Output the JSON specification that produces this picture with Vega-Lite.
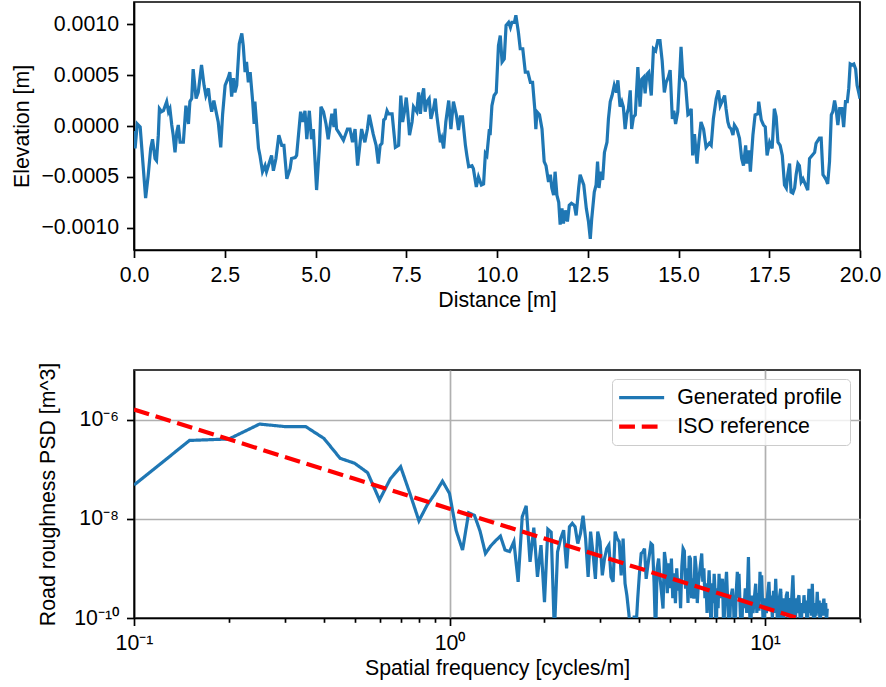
{
  "$schema": "https://vega.github.io/schema/vega-lite/v6.json",
  "padding": {"left": 11, "top": 1, "right": 5, "bottom": 5},
  "spacing": 120,
  "bounds": "flush",
  "config": {
    "font": "Liberation Sans",
    "view": {"stroke": "black", "strokeWidth": 1.7},
    "axis": {
      "labelFont": "Liberation Sans", "titleFont": "Liberation Sans",
      "labelFontSize": 21.3, "titleFontSize": 21.3, "titleFontWeight": "normal",
      "labelColor": "black", "titleColor": "black", "labelFlush": false, "labelOverlap": false,
      "domainColor": "black", "tickColor": "black", "domainWidth": 1.7, "tickWidth": 1.7,
      "tickSize": 7.5, "gridColor": "#b0b0b0", "gridWidth": 1.7, "gridOpacity": 1
    },
    "axisX": {"labelPadding": 7, "titlePadding": 4},
    "axisY": {"labelPadding": 8, "titlePadding": 10}
  },
  "datasets": {
    "profile": [
      {"distance":0.00,"elevation":-0.00005},{"distance":0.03,"elevation":-0.00022},{"distance":0.09,"elevation":0.00002},{"distance":0.17,"elevation":-0.00001},{"distance":0.32,"elevation":-0.00071},{"distance":0.39,"elevation":-0.00049},{"distance":0.46,"elevation":-0.00022},{"distance":0.51,"elevation":-0.00013},{"distance":0.58,"elevation":-0.00032},{"distance":0.62,"elevation":-0.00034},{"distance":0.67,"elevation":-0.00009},{"distance":0.70,"elevation":0.00017},{"distance":0.76,"elevation":0.00014},{"distance":0.81,"elevation":0.00015},{"distance":0.90,"elevation":0.00024},{"distance":0.95,"elevation":0.00014},{"distance":0.99,"elevation":0.00017},{"distance":1.04,"elevation":0.00001},{"distance":1.08,"elevation":-0.00009},{"distance":1.13,"elevation":-0.00026},{"distance":1.18,"elevation":-0.00006},{"distance":1.22,"elevation":0.00001},{"distance":1.27,"elevation":-0.00016},{"distance":1.36,"elevation":-0.00016},{"distance":1.43,"elevation":0.00020},{"distance":1.50,"elevation":0.00002},{"distance":1.54,"elevation":0.00024},{"distance":1.59,"elevation":0.00027},{"distance":1.63,"elevation":0.00056},{"distance":1.71,"elevation":0.00027},{"distance":1.77,"elevation":0.00033},{"distance":1.86,"elevation":0.00060},{"distance":1.93,"elevation":0.00040},{"distance":1.98,"elevation":0.00030},{"distance":2.05,"elevation":0.00037},{"distance":2.09,"elevation":0.00024},{"distance":2.14,"elevation":0.00014},{"distance":2.20,"elevation":0.00025},{"distance":2.28,"elevation":0.00011},{"distance":2.32,"elevation":0.00004},{"distance":2.39,"elevation":-0.00021},{"distance":2.44,"elevation":0.00011},{"distance":2.51,"elevation":0.00040},{"distance":2.60,"elevation":0.00048},{"distance":2.64,"elevation":0.00053},{"distance":2.69,"elevation":0.00029},{"distance":2.74,"elevation":0.00047},{"distance":2.78,"elevation":0.00033},{"distance":2.83,"elevation":0.00040},{"distance":2.90,"elevation":0.00081},{"distance":2.97,"elevation":0.00091},{"distance":3.01,"elevation":0.00079},{"distance":3.06,"elevation":0.00053},{"distance":3.10,"elevation":0.00063},{"distance":3.15,"elevation":0.00043},{"distance":3.20,"elevation":0.00053},{"distance":3.27,"elevation":0.00024},{"distance":3.31,"elevation":0.00002},{"distance":3.33,"elevation":0.00024},{"distance":3.43,"elevation":-0.00022},{"distance":3.47,"elevation":-0.00029},{"distance":3.54,"elevation":-0.00045},{"distance":3.61,"elevation":-0.00039},{"distance":3.65,"elevation":-0.00045},{"distance":3.79,"elevation":-0.00029},{"distance":3.84,"elevation":-0.00044},{"distance":3.91,"elevation":-0.00032},{"distance":3.99,"elevation":-0.00009},{"distance":4.07,"elevation":-0.00019},{"distance":4.13,"elevation":-0.00019},{"distance":4.21,"elevation":-0.00052},{"distance":4.30,"elevation":-0.00042},{"distance":4.34,"elevation":-0.00032},{"distance":4.44,"elevation":-0.00031},{"distance":4.48,"elevation":-0.00029},{"distance":4.59,"elevation":0.00014},{"distance":4.65,"elevation":0.00004},{"distance":4.71,"elevation":0.00015},{"distance":4.76,"elevation":-0.00013},{"distance":4.83,"elevation":0.00015},{"distance":4.89,"elevation":-0.00013},{"distance":4.94,"elevation":-0.00003},{"distance":5.03,"elevation":-0.00063},{"distance":5.11,"elevation":-0.00019},{"distance":5.15,"elevation":0.00019},{"distance":5.22,"elevation":0.00014},{"distance":5.29,"elevation":0.00002},{"distance":5.35,"elevation":-0.00013},{"distance":5.45,"elevation":0.00012},{"distance":5.51,"elevation":-0.00001},{"distance":5.54,"elevation":0.00017},{"distance":5.58,"elevation":-0.00003},{"distance":5.67,"elevation":-0.00008},{"distance":5.77,"elevation":-0.00014},{"distance":5.88,"elevation":-0.00003},{"distance":5.95,"elevation":-0.00003},{"distance":6.02,"elevation":-0.00016},{"distance":6.09,"elevation":-0.00003},{"distance":6.16,"elevation":-0.00039},{"distance":6.23,"elevation":-0.00016},{"distance":6.27,"elevation":-0.00003},{"distance":6.36,"elevation":-0.00016},{"distance":6.43,"elevation":-0.00003},{"distance":6.48,"elevation":0.00011},{"distance":6.59,"elevation":-0.00008},{"distance":6.67,"elevation":-0.00019},{"distance":6.73,"elevation":-0.00037},
      {"distance":6.78,"elevation":-0.00019},{"distance":6.83,"elevation":-0.00017},{"distance":6.88,"elevation":0.00006},{"distance":6.92,"elevation":0.00007},{"distance":6.97,"elevation":0.00015},{"distance":7.01,"elevation":0.00012},{"distance":7.11,"elevation":0.00012},{"distance":7.20,"elevation":-0.00021},{"distance":7.29,"elevation":-0.00019},{"distance":7.35,"elevation":0.00030},{"distance":7.40,"elevation":0.00004},{"distance":7.45,"elevation":0.00014},{"distance":7.50,"elevation":0.00028},{"distance":7.54,"elevation":0.00014},{"distance":7.59,"elevation":-0.00009},{"distance":7.66,"elevation":0.00004},{"distance":7.70,"elevation":0.00019},{"distance":7.79,"elevation":0.00014},{"distance":7.84,"elevation":0.00033},{"distance":7.89,"elevation":0.00012},{"distance":7.93,"elevation":0.00028},{"distance":7.98,"elevation":0.00037},{"distance":8.02,"elevation":0.00014},{"distance":8.07,"elevation":0.00024},{"distance":8.13,"elevation":0.00027},{"distance":8.18,"elevation":0.00007},{"distance":8.25,"elevation":0.00017},{"distance":8.30,"elevation":0.00027},{"distance":8.34,"elevation":0.00011},{"distance":8.39,"elevation":-0.00003},{"distance":8.44,"elevation":-0.00016},{"distance":8.48,"elevation":-0.00012},{"distance":8.53,"elevation":-0.00022},{"distance":8.59,"elevation":0.00004},{"distance":8.67,"elevation":0.00025},{"distance":8.73,"elevation":-0.00003},{"distance":8.80,"elevation":0.00024},{"distance":8.88,"elevation":0.00011},{"distance":8.94,"elevation":-0.00004},{"distance":8.99,"elevation":0.00009},{"distance":9.05,"elevation":0.00009},{"distance":9.13,"elevation":-0.00019},{"distance":9.17,"elevation":-0.00029},{"distance":9.22,"elevation":-0.00040},{"distance":9.31,"elevation":-0.00039},{"distance":9.35,"elevation":-0.00042},{"distance":9.43,"elevation":-0.00060},{"distance":9.49,"elevation":-0.00050},{"distance":9.57,"elevation":-0.00058},{"distance":9.63,"elevation":-0.00057},{"distance":9.68,"elevation":-0.00027},{"distance":9.72,"elevation":-0.00029},{"distance":9.79,"elevation":-0.00003},{"distance":9.81,"elevation":-0.00009},{"distance":9.86,"elevation":0.00020},{"distance":9.92,"elevation":0.00030},{"distance":9.98,"elevation":0.00033},{"distance":10.04,"elevation":0.00079},{"distance":10.09,"elevation":0.00089},{"distance":10.14,"elevation":0.00063},{"distance":10.20,"elevation":0.00066},{"distance":10.25,"elevation":0.00099},{"distance":10.32,"elevation":0.00102},{"distance":10.37,"elevation":0.00097},{"distance":10.41,"elevation":0.00102},{"distance":10.48,"elevation":0.00102},{"distance":10.52,"elevation":0.00109},{"distance":10.59,"elevation":0.00092},{"distance":10.64,"elevation":0.00076},{"distance":10.71,"elevation":0.00076},{"distance":10.78,"elevation":0.00053},{"distance":10.85,"elevation":0.00053},{"distance":10.92,"elevation":0.00043},{"distance":10.98,"elevation":0.00043},{"distance":11.04,"elevation":0.00017},{"distance":11.07,"elevation":-0.00003},{"distance":11.10,"elevation":0.00014},{"distance":11.17,"elevation":0.00011},{"distance":11.24,"elevation":-0.00003},{"distance":11.30,"elevation":-0.00035},{"distance":11.35,"elevation":-0.00039},{"distance":11.42,"elevation":-0.00055},{"distance":11.47,"elevation":-0.00048},{"distance":11.51,"elevation":-0.00061},{"distance":11.56,"elevation":-0.00068},{"distance":11.60,"elevation":-0.00045},{"distance":11.65,"elevation":-0.00068},{"distance":11.70,"elevation":-0.00075},{"distance":11.74,"elevation":-0.00097},{"distance":11.79,"elevation":-0.00081},{"distance":11.83,"elevation":-0.00096},{"distance":11.88,"elevation":-0.00083},{"distance":11.94,"elevation":-0.00094},{"distance":11.99,"elevation":-0.00078},{"distance":12.05,"elevation":-0.00076},{"distance":12.13,"elevation":-0.00078},{"distance":12.18,"elevation":-0.00088},{"distance":12.25,"elevation":-0.00061},{"distance":12.29,"elevation":-0.00048},{"distance":12.39,"elevation":-0.00058},{"distance":12.46,"elevation":-0.00081},{"distance":12.52,"elevation":-0.00094},{"distance":12.57,"elevation":-0.00111},{"distance":12.61,"elevation":-0.00091},{"distance":12.68,"elevation":-0.00065},{"distance":12.73,"elevation":-0.00058},{"distance":12.77,"elevation":-0.00035},{"distance":12.81,"elevation":-0.00061},{"distance":12.86,"elevation":-0.00045},{"distance":12.91,"elevation":-0.00053},{"distance":12.96,"elevation":-0.00026},{"distance":13.03,"elevation":-0.00016},{"distance":13.07,"elevation":0.00007},{"distance":13.12,"elevation":0.00024},{"distance":13.17,"elevation":0.00030},{"distance":13.23,"elevation":0.00040},{"distance":13.29,"elevation":0.00033},{"distance":13.33,"elevation":0.00045},
      {"distance":13.39,"elevation":0.00019},{"distance":13.44,"elevation":0.00024},{"distance":13.48,"elevation":0.00019},{"distance":13.53,"elevation":-0.00003},{"distance":13.58,"elevation":0.00012},{"distance":13.62,"elevation":0.00017},{"distance":13.67,"elevation":0.00035},{"distance":13.71,"elevation":-0.00003},{"distance":13.76,"elevation":0.00009},{"distance":13.81,"elevation":0.00011},{"distance":13.88,"elevation":0.00058},{"distance":13.94,"elevation":0.00019},{"distance":13.99,"elevation":0.00046},{"distance":14.04,"elevation":0.00048},{"distance":14.08,"elevation":0.00032},{"distance":14.13,"elevation":0.00051},{"distance":14.18,"elevation":0.00053},{"distance":14.25,"elevation":0.00030},{"distance":14.31,"elevation":0.00076},{"distance":14.37,"elevation":0.00074},{"distance":14.43,"elevation":0.00084},{"distance":14.49,"elevation":0.00084},{"distance":14.55,"elevation":0.00064},{"distance":14.61,"elevation":0.00033},{"distance":14.66,"elevation":0.00043},{"distance":14.72,"elevation":0.00048},{"distance":14.77,"elevation":0.00055},{"distance":14.83,"elevation":0.00007},{"distance":14.87,"elevation":0.00015},{"distance":14.92,"elevation":0.00002},{"distance":14.98,"elevation":0.00014},{"distance":15.03,"elevation":0.00048},{"distance":15.07,"elevation":0.00078},{"distance":15.12,"elevation":0.00048},{"distance":15.19,"elevation":0.00043},{"distance":15.26,"elevation":0.00011},{"distance":15.30,"elevation":0.00012},{"distance":15.35,"elevation":0.00017},{"distance":15.39,"elevation":-0.00029},{"distance":15.44,"elevation":-0.00008},{"distance":15.51,"elevation":-0.00037},{"distance":15.56,"elevation":-0.00016},{"distance":15.62,"elevation":0.00004},{"distance":15.69,"elevation":-0.00003},{"distance":15.76,"elevation":-0.00021},{"distance":15.85,"elevation":-0.00017},{"distance":15.90,"elevation":-0.00019},{"distance":15.96,"elevation":0.00007},{"distance":16.04,"elevation":0.00027},{"distance":16.10,"elevation":0.00035},{"distance":16.15,"elevation":0.00020},{"distance":16.20,"elevation":0.00024},{"distance":16.27,"elevation":0.00030},{"distance":16.31,"elevation":0.00017},{"distance":16.36,"elevation":0.00004},{"distance":16.40,"elevation":-0.00001},{"distance":16.45,"elevation":-0.00003},{"distance":16.50,"elevation":-0.00009},{"distance":16.54,"elevation":0.00001},{"distance":16.61,"elevation":-0.00003},{"distance":16.68,"elevation":-0.00012},{"distance":16.74,"elevation":-0.00032},{"distance":16.79,"elevation":-0.00039},{"distance":16.85,"elevation":-0.00019},{"distance":16.88,"elevation":-0.00037},{"distance":16.94,"elevation":-0.00024},{"distance":16.98,"elevation":-0.00045},{"distance":17.05,"elevation":-0.00009},{"distance":17.11,"elevation":0.00011},{"distance":17.19,"elevation":0.00012},{"distance":17.21,"elevation":0.00024},{"distance":17.28,"elevation":0.00006},{"distance":17.34,"elevation":0.00001},{"distance":17.39,"elevation":-0.00001},{"distance":17.44,"elevation":-0.00029},{"distance":17.51,"elevation":-0.00016},{"distance":17.58,"elevation":-0.00022},{"distance":17.64,"elevation":0.00017},{"distance":17.69,"elevation":0.00009},{"distance":17.74,"elevation":-0.00016},{"distance":17.80,"elevation":-0.00019},{"distance":17.86,"elevation":-0.00029},{"distance":17.92,"elevation":-0.00058},{"distance":17.97,"elevation":-0.00061},{"distance":18.01,"elevation":-0.00048},{"distance":18.06,"elevation":-0.00037},{"distance":18.10,"elevation":-0.00065},{"distance":18.15,"elevation":-0.00066},{"distance":18.20,"elevation":-0.00061},{"distance":18.24,"elevation":-0.00048},{"distance":18.29,"elevation":-0.00037},{"distance":18.33,"elevation":-0.00039},{"distance":18.38,"elevation":-0.00055},{"distance":18.43,"elevation":-0.00052},{"distance":18.50,"elevation":-0.00058},{"distance":18.56,"elevation":-0.00063},{"distance":18.61,"elevation":-0.00032},{"distance":18.68,"elevation":-0.00029},{"distance":18.75,"elevation":-0.00026},{"distance":18.79,"elevation":-0.00017},{"distance":18.88,"elevation":-0.00012},{"distance":18.93,"elevation":-0.00012},{"distance":18.98,"elevation":-0.00048},{"distance":19.02,"elevation":-0.00050},{"distance":19.07,"elevation":-0.00053},{"distance":19.11,"elevation":-0.00057},{"distance":19.16,"elevation":-0.00035},{"distance":19.21,"elevation":0.00011},{"distance":19.25,"elevation":0.00014},{"distance":19.30,"elevation":0.00025},{"distance":19.34,"elevation":0.00017},{"distance":19.39,"elevation":0.00001},{"distance":19.44,"elevation":0.00017},{"distance":19.50,"elevation":0.00017},{"distance":19.55,"elevation":-0.00001},{"distance":19.60,"elevation":0.00024},{"distance":19.65,"elevation":0.00024},{"distance":19.69,"elevation":0.00037},{"distance":19.73,"elevation":0.00061},{"distance":19.78,"elevation":0.00060},{"distance":19.83,"elevation":0.00061},{"distance":19.88,"elevation":0.00056},{"distance":19.92,"elevation":0.00040},{"distance":19.97,"elevation":0.00032},{"distance":20.00,"elevation":0.00027}
    ],
    "psd": [
      {"f":0.10,"psd":4.79e-8,"series":"Generated profile"},{"f":0.15,"psd":3.80e-7,"series":"Generated profile"},{"f":0.20,"psd":4.07e-7,"series":"Generated profile"},{"f":0.25,"psd":8.13e-7,"series":"Generated profile"},{"f":0.30,"psd":7.24e-7,"series":"Generated profile"},{"f":0.35,"psd":7.24e-7,"series":"Generated profile"},{"f":0.40,"psd":4.17e-7,"series":"Generated profile"},{"f":0.45,"psd":1.66e-7,"series":"Generated profile"},{"f":0.50,"psd":1.32e-7,"series":"Generated profile"},{"f":0.55,"psd":8.51e-8,"series":"Generated profile"},{"f":0.60,"psd":2.40e-8,"series":"Generated profile"},{"f":0.65,"psd":6.46e-8,"series":"Generated profile"},{"f":0.70,"psd":1.12e-7,"series":"Generated profile"},{"f":0.75,"psd":3.16e-8,"series":"Generated profile"},{"f":0.80,"psd":9.12e-9,"series":"Generated profile"},{"f":0.85,"psd":1.91e-8,"series":"Generated profile"},{"f":0.90,"psd":3.24e-8,"series":"Generated profile"},{"f":0.95,"psd":5.75e-8,"series":"Generated profile"},{"f":1.00,"psd":3.24e-8,"series":"Generated profile"},{"f":1.05,"psd":5.75e-9,"series":"Generated profile"},{"f":1.10,"psd":2.34e-9,"series":"Generated profile"},{"f":1.15,"psd":1.32e-8,"series":"Generated profile"},{"f":1.20,"psd":1.17e-8,"series":"Generated profile"},{"f":1.25,"psd":5.62e-9,"series":"Generated profile"},{"f":1.30,"psd":2.00e-9,"series":"Generated profile"},{"f":1.35,"psd":2.82e-9,"series":"Generated profile"},{"f":1.40,"psd":3.63e-9,"series":"Generated profile"},{"f":1.45,"psd":4.47e-9,"series":"Generated profile"},{"f":1.50,"psd":2.34e-9,"series":"Generated profile"},{"f":1.55,"psd":2.19e-9,"series":"Generated profile"},{"f":1.60,"psd":3.47e-9,"series":"Generated profile"},{"f":1.65,"psd":5.37e-10,"series":"Generated profile"},{"f":1.70,"psd":1.10e-8,"series":"Generated profile"},{"f":1.75,"psd":1.82e-8,"series":"Generated profile"},{"f":1.80,"psd":1.35e-9,"series":"Generated profile"},{"f":1.85,"psd":6.61e-9,"series":"Generated profile"},{"f":1.90,"psd":6.76e-10,"series":"Generated profile"},{"f":1.95,"psd":2.95e-9,"series":"Generated profile"},{"f":2.00,"psd":2.09e-10,"series":"Generated profile"},{"f":2.05,"psd":6.17e-9,"series":"Generated profile"},{"f":2.10,"psd":5.37e-9,"series":"Generated profile"},{"f":2.15,"psd":5.01e-11,"series":"Generated profile"},{"f":2.20,"psd":2.14e-9,"series":"Generated profile"},{"f":2.25,"psd":3.98e-9,"series":"Generated profile"},{"f":2.30,"psd":5.89e-9,"series":"Generated profile"},{"f":2.35,"psd":1.00e-9,"series":"Generated profile"},{"f":2.40,"psd":6.92e-9,"series":"Generated profile"},{"f":2.45,"psd":8.13e-9,"series":"Generated profile"},{"f":2.50,"psd":6.92e-9,"series":"Generated profile"},{"f":2.55,"psd":3.16e-9,"series":"Generated profile"},{"f":2.60,"psd":5.01e-9,"series":"Generated profile"},{"f":2.65,"psd":1.15e-8,"series":"Generated profile"},{"f":2.70,"psd":3.98e-9,"series":"Generated profile"},{"f":2.75,"psd":6.76e-10,"series":"Generated profile"},{"f":2.80,"psd":5.50e-9,"series":"Generated profile"},{"f":2.85,"psd":2.00e-9,"series":"Generated profile"},{"f":2.90,"psd":6.17e-10,"series":"Generated profile"},{"f":2.95,"psd":5.50e-9,"series":"Generated profile"},{"f":3.00,"psd":3.47e-9,"series":"Generated profile"},{"f":3.05,"psd":7.24e-10,"series":"Generated profile"},{"f":3.10,"psd":1.58e-9,"series":"Generated profile"},{"f":3.15,"psd":2.51e-9,"series":"Generated profile"},{"f":3.20,"psd":2.95e-9,"series":"Generated profile"},{"f":3.25,"psd":6.76e-10,"series":"Generated profile"},{"f":3.30,"psd":5.37e-10,"series":"Generated profile"},{"f":3.35,"psd":5.50e-9,"series":"Generated profile"},{"f":3.40,"psd":3.98e-9,"series":"Generated profile"},{"f":3.45,"psd":3.47e-9,"series":"Generated profile"},{"f":3.50,"psd":7.24e-10,"series":"Generated profile"},{"f":3.55,"psd":3.98e-9,"series":"Generated profile"},{"f":3.60,"psd":5.01e-10,"series":"Generated profile"},{"f":3.65,"psd":2.82e-10,"series":"Generated profile"},{"f":3.70,"psd":1.26e-10,"series":"Generated profile"},{"f":3.75,"psd":5.01e-11,"series":"Generated profile"},{"f":3.80,"psd":3.16e-11,"series":"Generated profile"},{"f":3.85,"psd":1.12e-10,"series":"Generated profile"},{"f":3.90,"psd":6.31e-11,"series":"Generated profile"},{"f":3.95,"psd":2.51e-10,"series":"Generated profile"},{"f":4.00,"psd":7.94e-10,"series":"Generated profile"},{"f":4.05,"psd":2.00e-9,"series":"Generated profile"},{"f":4.10,"psd":2.14e-9,"series":"Generated profile"},{"f":4.15,"psd":2.51e-9,"series":"Generated profile"},{"f":4.20,"psd":6.17e-10,"series":"Generated profile"},{"f":4.25,"psd":1.12e-9,"series":"Generated profile"},{"f":4.30,"psd":1.86e-9,"series":"Generated profile"},{"f":4.35,"psd":3.16e-9,"series":"Generated profile"},{"f":4.40,"psd":2.95e-9,"series":"Generated profile"},{"f":4.45,"psd":5.01e-10,"series":"Generated profile"},{"f":4.50,"psd":3.98e-11,"series":"Generated profile"},{"f":4.55,"psd":1.00e-9,"series":"Generated profile"},{"f":4.60,"psd":1.58e-9,"series":"Generated profile"},{"f":4.65,"psd":6.17e-10,"series":"Generated profile"},{"f":4.70,"psd":3.16e-10,"series":"Generated profile"},{"f":4.75,"psd":1.55e-10,"series":"Generated profile"},{"f":4.80,"psd":2.14e-9,"series":"Generated profile"},{"f":4.85,"psd":1.26e-9,"series":"Generated profile"},{"f":4.90,"psd":3.16e-10,"series":"Generated profile"},{"f":4.95,"psd":1.26e-9,"series":"Generated profile"},{"f":5.00,"psd":3.98e-10,"series":"Generated profile"},{"f":5.05,"psd":1.58e-9,"series":"Generated profile"},{"f":5.10,"psd":2.51e-10,"series":"Generated profile"},{"f":5.15,"psd":7.94e-10,"series":"Generated profile"},{"f":5.20,"psd":2.00e-10,"series":"Generated profile"},{"f":5.25,"psd":1.00e-9,"series":"Generated profile"},{"f":5.30,"psd":3.55e-10,"series":"Generated profile"},{"f":5.35,"psd":6.31e-10,"series":"Generated profile"},{"f":5.40,"psd":1.58e-10,"series":"Generated profile"},{"f":5.45,"psd":1.12e-9,"series":"Generated profile"},{"f":5.50,"psd":2.51e-9,"series":"Generated profile"},{"f":5.55,"psd":2.24e-9,"series":"Generated profile"},{"f":5.60,"psd":3.89e-10,"series":"Generated profile"},{"f":5.65,"psd":1.00e-9,"series":"Generated profile"},{"f":5.70,"psd":2.00e-10,"series":"Generated profile"},{"f":5.75,"psd":1.78e-9,"series":"Generated profile"},{"f":5.80,"psd":1.58e-9,"series":"Generated profile"},{"f":5.85,"psd":2.51e-10,"series":"Generated profile"},{"f":5.90,"psd":6.31e-10,"series":"Generated profile"},{"f":5.95,"psd":2.45e-10,"series":"Generated profile"},{"f":6.00,"psd":1.78e-9,"series":"Generated profile"},{"f":6.05,"psd":1.00e-9,"series":"Generated profile"},{"f":6.10,"psd":2.00e-10,"series":"Generated profile"},{"f":6.15,"psd":5.01e-10,"series":"Generated profile"},{"f":6.20,"psd":7.94e-10,"series":"Generated profile"},{"f":6.30,"psd":2.00e-9,"series":"Generated profile"},{"f":6.35,"psd":5.37e-10,"series":"Generated profile"},{"f":6.40,"psd":1.00e-9,"series":"Generated profile"},{"f":6.45,"psd":2.51e-10,"series":"Generated profile"},{"f":6.50,"psd":5.01e-10,"series":"Generated profile"},
      {"f":6.55,"psd":1.26e-10,"series":"Generated profile"},{"f":6.65,"psd":9.12e-10,"series":"Generated profile"},{"f":6.70,"psd":2.51e-10,"series":"Generated profile"},{"f":6.75,"psd":3.98e-11,"series":"Generated profile"},{"f":6.80,"psd":5.01e-10,"series":"Generated profile"},{"f":6.85,"psd":2.00e-10,"series":"Generated profile"},{"f":6.90,"psd":7.76e-10,"series":"Generated profile"},{"f":6.95,"psd":3.16e-10,"series":"Generated profile"},{"f":7.00,"psd":3.16e-11,"series":"Generated profile"},{"f":7.05,"psd":3.98e-10,"series":"Generated profile"},{"f":7.10,"psd":1.58e-10,"series":"Generated profile"},{"f":7.15,"psd":7.76e-10,"series":"Generated profile"},{"f":7.20,"psd":2.51e-10,"series":"Generated profile"},{"f":7.25,"psd":3.98e-10,"series":"Generated profile"},{"f":7.33,"psd":6.17e-10,"series":"Generated profile"},{"f":7.40,"psd":5.01e-11,"series":"Generated profile"},{"f":7.47,"psd":3.16e-10,"series":"Generated profile"},{"f":7.55,"psd":8.51e-10,"series":"Generated profile"},{"f":7.62,"psd":2.00e-10,"series":"Generated profile"},{"f":7.70,"psd":3.98e-11,"series":"Generated profile"},{"f":7.78,"psd":2.51e-10,"series":"Generated profile"},{"f":7.88,"psd":3.89e-10,"series":"Generated profile"},{"f":7.95,"psd":1.78e-10,"series":"Generated profile"},{"f":8.02,"psd":2.51e-11,"series":"Generated profile"},{"f":8.10,"psd":3.16e-10,"series":"Generated profile"},{"f":8.17,"psd":8.51e-10,"series":"Generated profile"},{"f":8.22,"psd":2.51e-10,"series":"Generated profile"},{"f":8.27,"psd":7.76e-10,"series":"Generated profile"},{"f":8.35,"psd":1.26e-10,"series":"Generated profile"},{"f":8.42,"psd":3.16e-11,"series":"Generated profile"},{"f":8.50,"psd":2.51e-10,"series":"Generated profile"},{"f":8.58,"psd":1.58e-10,"series":"Generated profile"},{"f":8.66,"psd":3.98e-10,"series":"Generated profile"},{"f":8.75,"psd":1.26e-10,"series":"Generated profile"},{"f":8.86,"psd":1.70e-9,"series":"Generated profile"},{"f":8.92,"psd":2.00e-10,"series":"Generated profile"},{"f":9.00,"psd":3.98e-11,"series":"Generated profile"},{"f":9.08,"psd":2.82e-10,"series":"Generated profile"},{"f":9.16,"psd":1.26e-10,"series":"Generated profile"},{"f":9.25,"psd":2.51e-10,"series":"Generated profile"},{"f":9.34,"psd":4.90e-10,"series":"Generated profile"},{"f":9.42,"psd":1.26e-10,"series":"Generated profile"},{"f":9.50,"psd":3.16e-10,"series":"Generated profile"},{"f":9.57,"psd":1.41e-10,"series":"Generated profile"},{"f":9.64,"psd":8.51e-10,"series":"Generated profile"},{"f":9.70,"psd":2.51e-10,"series":"Generated profile"},{"f":9.76,"psd":7.24e-10,"series":"Generated profile"},{"f":9.84,"psd":1.26e-10,"series":"Generated profile"},{"f":9.92,"psd":2.51e-11,"series":"Generated profile"},{"f":10.00,"psd":2.51e-10,"series":"Generated profile"},{"f":10.10,"psd":1.26e-10,"series":"Generated profile"},{"f":10.20,"psd":3.16e-10,"series":"Generated profile"},{"f":10.29,"psd":5.37e-10,"series":"Generated profile"},{"f":10.38,"psd":1.41e-10,"series":"Generated profile"},{"f":10.46,"psd":2.82e-10,"series":"Generated profile"},{"f":10.55,"psd":1.00e-10,"series":"Generated profile"},{"f":10.64,"psd":3.55e-10,"series":"Generated profile"},{"f":10.72,"psd":1.26e-10,"series":"Generated profile"},{"f":10.81,"psd":6.17e-10,"series":"Generated profile"},{"f":10.90,"psd":1.58e-10,"series":"Generated profile"},{"f":11.00,"psd":3.98e-11,"series":"Generated profile"},{"f":11.10,"psd":2.51e-10,"series":"Generated profile"},{"f":11.21,"psd":3.89e-10,"series":"Generated profile"},{"f":11.30,"psd":1.26e-10,"series":"Generated profile"},{"f":11.40,"psd":3.16e-11,"series":"Generated profile"},{"f":11.50,"psd":2.51e-10,"series":"Generated profile"},{"f":11.60,"psd":1.26e-10,"series":"Generated profile"},{"f":11.68,"psd":2.82e-10,"series":"Generated profile"},{"f":11.77,"psd":3.39e-10,"series":"Generated profile"},{"f":11.86,"psd":1.00e-10,"series":"Generated profile"},{"f":11.95,"psd":2.51e-10,"series":"Generated profile"},{"f":12.05,"psd":5.01e-11,"series":"Generated profile"},{"f":12.15,"psd":2.51e-10,"series":"Generated profile"},{"f":12.26,"psd":7.24e-10,"series":"Generated profile"},{"f":12.35,"psd":1.58e-10,"series":"Generated profile"},{"f":12.45,"psd":3.98e-11,"series":"Generated profile"},{"f":12.55,"psd":2.51e-10,"series":"Generated profile"},{"f":12.65,"psd":1.26e-10,"series":"Generated profile"},{"f":12.72,"psd":2.40e-10,"series":"Generated profile"},{"f":12.81,"psd":2.88e-10,"series":"Generated profile"},{"f":12.90,"psd":1.12e-10,"series":"Generated profile"},{"f":13.00,"psd":3.98e-11,"series":"Generated profile"},{"f":13.10,"psd":2.00e-10,"series":"Generated profile"},{"f":13.20,"psd":1.26e-10,"series":"Generated profile"},{"f":13.29,"psd":2.88e-10,"series":"Generated profile"},{"f":13.40,"psd":1.26e-10,"series":"Generated profile"},{"f":13.50,"psd":2.24e-10,"series":"Generated profile"},{"f":13.60,"psd":5.01e-11,"series":"Generated profile"},{"f":13.70,"psd":1.78e-10,"series":"Generated profile"},{"f":13.78,"psd":3.89e-10,"series":"Generated profile"},{"f":13.88,"psd":1.26e-10,"series":"Generated profile"},{"f":13.96,"psd":2.51e-10,"series":"Generated profile"},{"f":14.04,"psd":1.12e-10,"series":"Generated profile"},{"f":14.12,"psd":4.90e-10,"series":"Generated profile"},{"f":14.22,"psd":1.26e-10,"series":"Generated profile"},{"f":14.32,"psd":3.98e-11,"series":"Generated profile"},{"f":14.42,"psd":2.00e-10,"series":"Generated profile"},{"f":14.52,"psd":1.12e-10,"series":"Generated profile"},{"f":14.64,"psd":3.39e-10,"series":"Generated profile"},{"f":14.74,"psd":1.26e-10,"series":"Generated profile"},{"f":14.85,"psd":2.24e-10,"series":"Generated profile"},{"f":14.95,"psd":6.31e-11,"series":"Generated profile"},{"f":15.05,"psd":2.00e-10,"series":"Generated profile"},{"f":15.15,"psd":1.12e-10,"series":"Generated profile"},{"f":15.25,"psd":1.78e-10,"series":"Generated profile"},{"f":15.37,"psd":2.45e-10,"series":"Generated profile"},{"f":15.47,"psd":1.12e-10,"series":"Generated profile"},{"f":15.57,"psd":2.00e-10,"series":"Generated profile"},{"f":15.66,"psd":7.94e-11,"series":"Generated profile"},{"f":15.75,"psd":1.55e-10,"series":"Generated profile"},
      {"f":0.1,"psd":1.6e-6,"series":"ISO reference"},{"f":0.2,"psd":4.0e-7,"series":"ISO reference"},{"f":0.5,"psd":6.4e-8,"series":"ISO reference"},{"f":1.0,"psd":1.6e-8,"series":"ISO reference"},{"f":2.0,"psd":4.0e-9,"series":"ISO reference"},{"f":5.0,"psd":6.4e-10,"series":"ISO reference"},{"f":10.0,"psd":1.6e-10,"series":"ISO reference"},{"f":15.75,"psd":6.45e-11,"series":"ISO reference"}
    ]
  },
  "vconcat": [
    {
      "width": 726,
      "height": 248,
      "data": {"name": "profile"},
      "mark": {"type": "line", "color": "#1f77b4", "strokeWidth": 3.2, "clip": true},
      "encoding": {
        "x": {"field": "distance", "type": "quantitative",
              "scale": {"domain": [0, 20], "nice": false, "zero": false},
              "axis": {"title": "Distance [m]", "values": [0, 2.5, 5, 7.5, 10, 12.5, 15, 17.5, 20], "format": ".1f", "grid": false}},
        "y": {"field": "elevation", "type": "quantitative",
              "scale": {"domain": [-0.00122, 0.00122], "nice": false, "zero": false},
              "axis": {"title": "Elevation [m]", "titlePadding": 8, "values": [-0.001, -0.0005, 0, 0.0005, 0.001], "format": ".4f", "grid": false}}
      }
    },
    {
      "width": 726,
      "height": 248,
      "data": {"name": "psd"},
      "resolve": {"axis": {"x": "independent"}},
      "layer": [
        {
          "mark": {"type": "line", "clip": true},
          "encoding": {
            "x": {"field": "f", "type": "quantitative",
                  "scale": {"type": "log", "domain": [0.1, 20], "nice": false},
                  "axis": {"orient": "bottom", "title": "Spatial frequency [cycles/m]", "values": [0.1, 1, 10], "grid": true,
                           "labelExpr": "datum.value < 0.5 ? '10⁻¹' : datum.value < 5 ? '10⁰' : '10¹'"}},
            "y": {"field": "psd", "type": "quantitative",
                  "scale": {"type": "log", "domain": [1e-10, 1e-5], "nice": false},
                  "axis": {"title": "Road roughness PSD [m^3]", "titlePadding": 15, "values": [1e-10, 1e-8, 1e-6], "grid": true,
                           "labelExpr": "datum.value < 1e-9 ? '10⁻¹⁰' : datum.value < 1e-7 ? '10⁻⁸' : '10⁻⁶'"}},
            "color": {"field": "series", "type": "nominal",
                      "scale": {"domain": ["Generated profile", "ISO reference"], "range": ["#1f77b4", "#ff0000"]},
                      "legend": {"title": null, "orient": "none", "legendX": 478, "legendY": 377,
                                 "padding": 8, "cornerRadius": 4, "strokeColor": "#cccccc", "fillColor": "rgba(255,255,255,0.8)",
                                 "labelFont": "Liberation Sans", "labelFontSize": 21.3, "labelColor": "black", "labelLimit": 0,
                                 "symbolType": "M-4.5,0H4.5", "symbolSize": 100, "symbolStrokeWidth": 3.5,
                                 "symbolOffset": 11, "labelOffset": 25, "rowPadding": 7}},
            "strokeDash": {"field": "series", "type": "nominal",
                           "scale": {"domain": ["Generated profile", "ISO reference"], "range": [[1, 0], [15.8, 6.8]]}},
            "strokeWidth": {"field": "series", "type": "nominal",
                            "scale": {"domain": ["Generated profile", "ISO reference"], "range": [3.2, 4.2]}, "legend": null}
          }
        },
        {
          "mark": {"type": "point", "opacity": 0, "size": 1},
          "encoding": {
            "x": {"field": "f", "type": "quantitative",
                  "scale": {"type": "log", "domain": [0.1, 20], "nice": false},
                  "axis": {"orient": "bottom", "title": null, "values": [0.2, 0.3, 0.4, 0.5, 0.6, 0.7, 0.8, 0.9, 2, 3, 4, 5, 6, 7, 8, 9, 20],
                           "labels": false, "grid": false, "domain": false, "tickSize": 4.3}}
          }
        }
      ]
    }
  ]
}
